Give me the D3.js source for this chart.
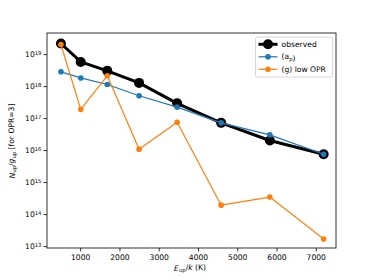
<!DOCTYPE html>
<html>
<head>
<meta charset="utf-8">
<script src="https://cdn.jsdelivr.net/npm/d3@7"></script>
<style>
  body { margin: 0; background: #fff; }
  svg { font-family: "DejaVu Sans", sans-serif; display: block; }
</style>
</head>
<body>
<svg id="chart"></svg>
<script>
// upper level energies E_up/k (K)
const energies = [510, 1015, 1690, 2500, 3470, 4590, 5830, 7200];
const observed = [2.15e19, 5.7e18, 3.0e18, 1.26e18, 2.9e17, 7.1e16, 2.0e16, 7.4e15];
const modelAp = [2.8e18, 1.8e18, 1.12e18, 5.0e17, 2.2e17, 7.1e16, 3.0e16, 7.4e15];
const modelG = [2.0e19, 1.87e17, 2.1e18, 1.07e16, 7.4e16, 1.9e14, 3.4e14, 1.66e13];
const xTicks = [1000, 2000, 3000, 4000, 5000, 6000, 7000];
const yTicks = [13, 14, 15, 16, 17, 18, 19];

const width = 374, height = 280;
const margin = { top: 33, right: 38, bottom: 32, left: 47 };
const fs = 7.6;

const svg = d3.select("#chart")
  .attr("width", width)
  .attr("height", height);

const x = d3.scaleLinear()
  .domain([155, 7515])
  .range([margin.left, width - margin.right]);

const y = d3.scaleLog()
  .domain([Math.pow(10, 12.94), Math.pow(10, 19.66)])
  .range([height - margin.bottom, margin.top]);

// axes
const xAxis = svg.append("g")
  .attr("transform", `translate(0,${height - margin.bottom})`)
  .call(d3.axisBottom(x).tickValues(xTicks).tickSize(3.5).tickPadding(3).tickFormat(d3.format("d")));

const yAxis = svg.append("g")
  .attr("transform", `translate(${margin.left},0)`)
  .call(d3.axisLeft(y).tickValues(yTicks.map(e => Math.pow(10, e))).tickSize(3.5).tickPadding(2).tickFormat(""));

[xAxis, yAxis].forEach(a => {
  a.select(".domain").remove();
  a.selectAll(".tick line").attr("stroke", "#000").attr("stroke-width", 0.8);
  a.selectAll(".tick text").attr("font-size", fs).attr("fill", "#000").attr("font-family", "DejaVu Sans");
});

yAxis.selectAll(".tick text")
  .attr("dy", "0.32em")
  .each(function (d) {
    const t = d3.select(this);
    const e = Math.round(Math.log10(d));
    t.append("tspan").text("10");
    t.append("tspan").attr("dy", "-0.45em").attr("font-size", fs * 0.7).text(e);
  });

// frame
svg.append("rect")
  .attr("x", margin.left)
  .attr("y", margin.top)
  .attr("width", width - margin.left - margin.right)
  .attr("height", height - margin.top - margin.bottom)
  .attr("fill", "none")
  .attr("stroke", "#000")
  .attr("stroke-width", 0.8);

// series
const series = [
  { name: "observed", values: observed, color: "#000000", lw: 3, r: 5 },
  { name: "ap", values: modelAp, color: "#1f77b4", lw: 1.2, r: 2.8 },
  { name: "g", values: modelG, color: "#ff7f0e", lw: 1.2, r: 2.8 }
];

const line = d3.line()
  .x((d, i) => x(energies[i]))
  .y(d => y(d));

series.forEach(s => {
  const g = svg.append("g");
  g.append("path")
    .datum(s.values)
    .attr("fill", "none")
    .attr("stroke", s.color)
    .attr("stroke-width", s.lw)
    .attr("stroke-linejoin", "round")
    .attr("d", line);
  g.selectAll("circle")
    .data(s.values)
    .enter()
    .append("circle")
    .attr("cx", (d, i) => x(energies[i]))
    .attr("cy", d => y(d))
    .attr("r", s.r)
    .attr("fill", s.color);
});

// legend
const legend = svg.append("g")
  .attr("transform", "translate(255.5,37)");

legend.append("rect")
  .attr("width", 77)
  .attr("height", 40)
  .attr("rx", 2)
  .attr("fill", "#fff")
  .attr("fill-opacity", 0.8)
  .attr("stroke", "#ccc")
  .attr("stroke-width", 0.8);

const labels = [
  [{ t: "observed" }],
  [{ t: "(a" }, { t: "p", sub: true }, { t: ")" }],
  [{ t: "(g) low OPR" }]
];

series.forEach((s, i) => {
  const yy = 7.3 + i * 12.5;
  legend.append("line")
    .attr("x1", 3).attr("x2", 22)
    .attr("y1", yy).attr("y2", yy)
    .attr("stroke", s.color)
    .attr("stroke-width", s.lw);
  legend.append("circle")
    .attr("cx", 12.5).attr("cy", yy)
    .attr("r", s.r)
    .attr("fill", s.color);
  const t = legend.append("text")
    .attr("x", 26)
    .attr("y", yy)
    .attr("dy", "0.35em")
    .attr("font-size", fs);
  labels[i].forEach(p => {
    if (p.sub) {
      t.append("tspan").attr("dy", "0.25em").attr("font-size", fs * 0.7).text(p.t);
      t.append("tspan").attr("dy", "-0.25em").text("");
    } else {
      t.append("tspan").text(p.t);
    }
  });
});

// axis labels
const xl = svg.append("text")
  .attr("x", 190)
  .attr("y", 271)
  .attr("text-anchor", "middle")
  .attr("font-size", fs);
xl.append("tspan").attr("font-style", "italic").text("E");
xl.append("tspan").attr("dy", "0.25em").attr("font-size", fs * 0.7).text("up");
xl.append("tspan").attr("dy", "-0.25em").text("/");
xl.append("tspan").attr("font-style", "italic").text("k");
xl.append("tspan").text(" (K)");

const yl = svg.append("text")
  .attr("transform", "translate(15,141) rotate(-90)")
  .attr("text-anchor", "middle")
  .attr("font-size", fs);
yl.append("tspan").attr("font-style", "italic").text("N");
yl.append("tspan").attr("dy", "0.25em").attr("font-size", fs * 0.7).text("up");
yl.append("tspan").attr("dy", "-0.25em").text("/");
yl.append("tspan").attr("font-style", "italic").text("g");
yl.append("tspan").attr("dy", "0.25em").attr("font-size", fs * 0.7).text("up");
yl.append("tspan").attr("dy", "-0.25em").text(" [for OPR=3]");
</script>
</body>
</html>
